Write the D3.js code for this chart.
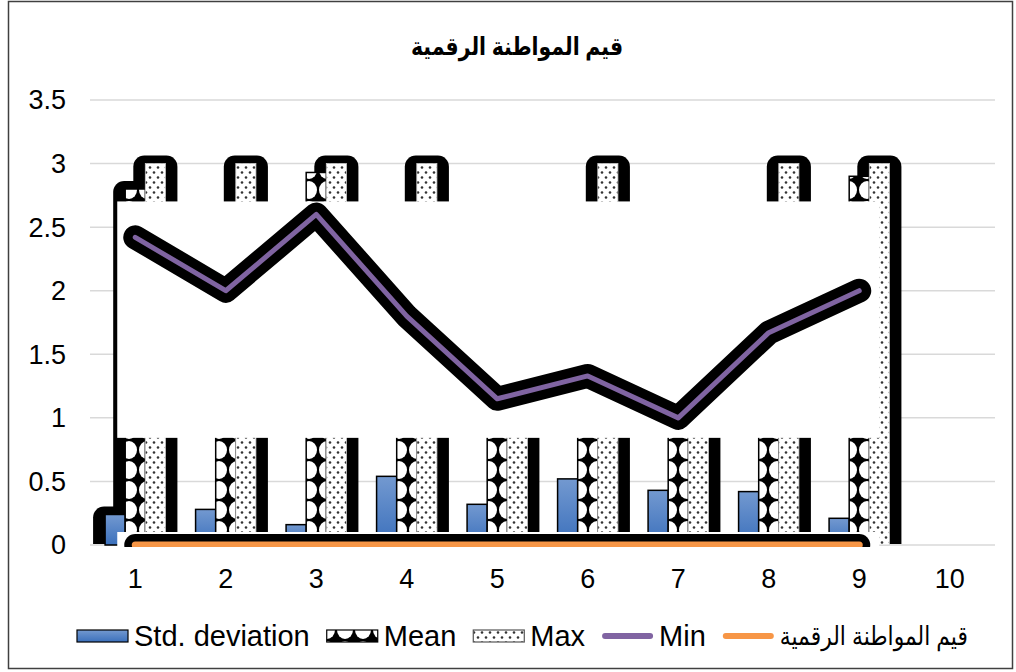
<!DOCTYPE html>
<html>
<head>
<meta charset="utf-8">
<script src="https://cdn.jsdelivr.net/npm/d3@7"></script>
<style>
  body { margin: 0; background: #fff; }
  text { font-family: Arial, "Liberation Sans", "DejaVu Sans", sans-serif; fill: #000; }
</style>
</head>
<body>
<script>
// ---------- DATA ----------
var categories = ["1", "2", "3", "4", "5", "6", "7", "8", "9", "10"];
var stdDev   = [0.24, 0.28, 0.16, 0.54, 0.32, 0.52, 0.43, 0.42, 0.21];
var meanVals = [2.8, 2.5, 2.93, 2.4, 2.1, 2.2, 2.0, 2.35, 2.9];
var maxVals  = [3, 3, 3, 3, 2.5, 3, 2.6, 3, 3];
var minVals  = [2.42, 2.0, 2.6, 1.8, 1.15, 1.33, 1.0, 1.67, 2.0];
var citizenVals = [0, 0, 0, 0, 0, 0, 0, 0, 0];
var yTicks = [0, 0.5, 1, 1.5, 2, 2.5, 3, 3.5];
var chartTitle = "قيم المواطنة الرقمية";
var seriesNames = ["Std. deviation", "Mean", "Max", "Min", "قيم المواطنة الرقمية"];

// ---------- DIMENSIONS ----------
var w = 1016, h = 672;
var plot = { left: 90, right: 995, top: 100, bottom: 545 };

var svg = d3.select("body").append("svg")
  .attr("width", w).attr("height", h);

// chart border
svg.append("rect")
  .attr("x", 8.5).attr("y", 1.5)
  .attr("width", 1004).attr("height", 667)
  .attr("fill", "none").attr("stroke", "#404040").attr("stroke-width", 1.5);

// ---------- SCALES ----------
var x = d3.scaleBand().domain(categories).range([plot.left, plot.right]);
var bw = x.bandwidth();
var groupW = bw / 1.5;              // gap width 50%
var x1 = d3.scaleBand().domain(["std", "mean", "max"]).range([0, groupW]);
var y = d3.scaleLinear().domain([0, 3.5]).range([plot.bottom, plot.top]);

function cx(i) { return x(categories[i]) + bw / 2; }
function barX(i, key) { return x(categories[i]) + (bw - groupW) / 2 + x1(key); }

// ---------- DEFS ----------
var defs = svg.append("defs");

var grad = defs.append("linearGradient").attr("id", "blueGrad")
  .attr("x1", 0).attr("y1", 0).attr("x2", 0).attr("y2", 1);
grad.append("stop").attr("offset", "0%").attr("stop-color", "#7399d0");
grad.append("stop").attr("offset", "100%").attr("stop-color", "#3b70bc");

// circles / diamonds pattern (Mean)
var pm = defs.append("pattern").attr("id", "meanPat")
  .attr("patternUnits", "userSpaceOnUse")
  .attr("x", 12).attr("y", 0).attr("width", 18).attr("height", 20);
pm.append("rect").attr("width", 18).attr("height", 20).attr("fill", "#000");
pm.append("ellipse").attr("cx", 9).attr("cy", 10).attr("rx", 8).attr("ry", 9).attr("fill", "#fff");

// dotted pattern (Max)
var pd = defs.append("pattern").attr("id", "maxPat")
  .attr("patternUnits", "userSpaceOnUse")
  .attr("width", 8).attr("height", 10);
pd.append("rect").attr("width", 8).attr("height", 10).attr("fill", "#fff");
pd.append("circle").attr("cx", 2).attr("cy", 2.5).attr("r", 1.3).attr("fill", "#333");
pd.append("circle").attr("cx", 6).attr("cy", 7.5).attr("r", 1.3).attr("fill", "#333");

defs.append("clipPath").attr("id", "plotClip")
  .append("rect").attr("x", 0).attr("y", 0).attr("width", w).attr("height", plot.bottom + 2);
defs.append("clipPath").attr("id", "glowClip")
  .append("rect").attr("x", 0).attr("y", 0).attr("width", w).attr("height", plot.bottom - 1);

// ---------- GRIDLINES ----------
svg.append("g").selectAll("line").data(yTicks).enter().append("line")
  .attr("x1", plot.left).attr("x2", plot.right)
  .attr("y1", d => y(d)).attr("y2", d => y(d))
  .attr("stroke", "#d9d9d9").attr("stroke-width", 1.5);

// ---------- AXIS LABELS ----------
svg.append("g").selectAll("text").data(yTicks).enter().append("text")
  .attr("x", 66).attr("y", d => y(d)).attr("dy", "0.35em")
  .attr("text-anchor", "end").attr("font-size", "27px")
  .text(d => d);

svg.append("g").selectAll("text").data(categories).enter().append("text")
  .attr("x", d => x(d) + bw / 2).attr("y", 579).attr("dy", "0.35em")
  .attr("text-anchor", "middle").attr("font-size", "27px")
  .text(d => d);

// ---------- BARS ----------
var series = [
  { key: "std",  values: stdDev,   fill: "url(#blueGrad)", stroke: "#000", glow: [0] },
  { key: "mean", values: meanVals, fill: "url(#meanPat)",  stroke: "#000", glow: [0] },
  { key: "max",  values: maxVals,  fill: "url(#maxPat)",   stroke: "#ccc", glow: d3.range(maxVals.length) }
];
var barW = x1.bandwidth();
var glowPad = 12, glowTop = 8;

// black glow behind all bars
var gGlow = svg.append("g").attr("clip-path", "url(#glowClip)");
series.forEach(function (s) {
  s.glow.forEach(function (i) {
    gGlow.append("rect")
      .attr("x", barX(i, s.key) - glowPad)
      .attr("y", y(s.values[i]) - glowTop)
      .attr("width", barW + glowPad * 2)
      .attr("height", y(0) - y(s.values[i]) + glowTop + 20)
      .attr("rx", 11)
      .attr("fill", "#000");
  });
});

series.forEach(function (s) {
  svg.append("g").selectAll("rect").data(s.values).enter().append("rect")
    .attr("x", (d, i) => barX(i, s.key))
    .attr("y", d => y(d))
    .attr("width", barW)
    .attr("height", d => y(0) - y(d))
    .attr("fill", s.fill)
    .attr("stroke", s.stroke)
    .attr("stroke-width", s.key === "max" ? 0.8 : 1.5);
});

// ---------- LINES ----------
function linePts(vals) { return vals.map((v, i) => [cx(i), y(v)]); }
var lineGen = d3.line();

// white box that hides the bars behind each line
function boxAround(pts) {
  var xs = d3.extent(pts, p => p[0]), ys = d3.extent(pts, p => p[1]);
  svg.append("rect")
    .attr("x", xs[0] - 18).attr("y", ys[0] - 13)
    .attr("width", xs[1] - xs[0] + 38).attr("height", ys[1] - ys[0] + 33)
    .attr("fill", "#fff")
    .attr("clip-path", "url(#plotClip)");
}

var minPts = linePts(minVals);
var citPts = linePts(citizenVals);
boxAround(minPts);
boxAround(citPts);

function drawLine(pts, color, glowW, lineW) {
  var g = svg.append("g").attr("clip-path", "url(#plotClip)");
  g.append("path").attr("d", lineGen(pts))
    .attr("fill", "none").attr("stroke", "#000").attr("stroke-width", glowW)
    .attr("stroke-linejoin", "round").attr("stroke-linecap", "round");
  g.append("path").attr("d", lineGen(pts))
    .attr("fill", "none").attr("stroke", color).attr("stroke-width", lineW)
    .attr("stroke-linejoin", "round").attr("stroke-linecap", "round");
}
drawLine(minPts, "#8064a2", 24, 5);
drawLine(citPts, "#f79646", 22, 7);

// ---------- TITLE ----------
svg.append("text")
  .attr("x", 517).attr("y", 46).attr("dy", "0.35em")
  .attr("text-anchor", "middle")
  .attr("font-size", "25px").attr("font-weight", "bold")
  .attr("textLength", 212).attr("lengthAdjust", "spacingAndGlyphs")
  .text(chartTitle);

// ---------- LEGEND ----------
var legY = 636;
var lg = svg.append("g");
var lx = 77;
var swatchW = 51;
seriesNames.forEach(function (name, i) {
  if (i < 3) {
    lg.append("rect")
      .attr("x", lx).attr("y", legY - 6).attr("width", swatchW).attr("height", 12)
      .attr("fill", series[i].fill)
      .attr("stroke", i === 2 ? "#555" : "#000").attr("stroke-width", 1.2);
  } else {
    lg.append("line")
      .attr("x1", lx + 3).attr("x2", lx + swatchW - 3)
      .attr("y1", legY).attr("y2", legY)
      .attr("stroke", i === 3 ? "#8064a2" : "#f79646")
      .attr("stroke-width", 6).attr("stroke-linecap", "round");
  }
  var t = lg.append("text")
    .attr("x", lx + swatchW + 6).attr("y", legY).attr("dy", "0.35em")
    .attr("font-size", i === 4 ? "26px" : "29px")
    .text(name);
  if (i === 4) t.attr("textLength", 188).attr("lengthAdjust", "spacingAndGlyphs");
  lx += swatchW + 6 + t.node().getComputedTextLength() + 17;
});
</script>
</body>
</html>
